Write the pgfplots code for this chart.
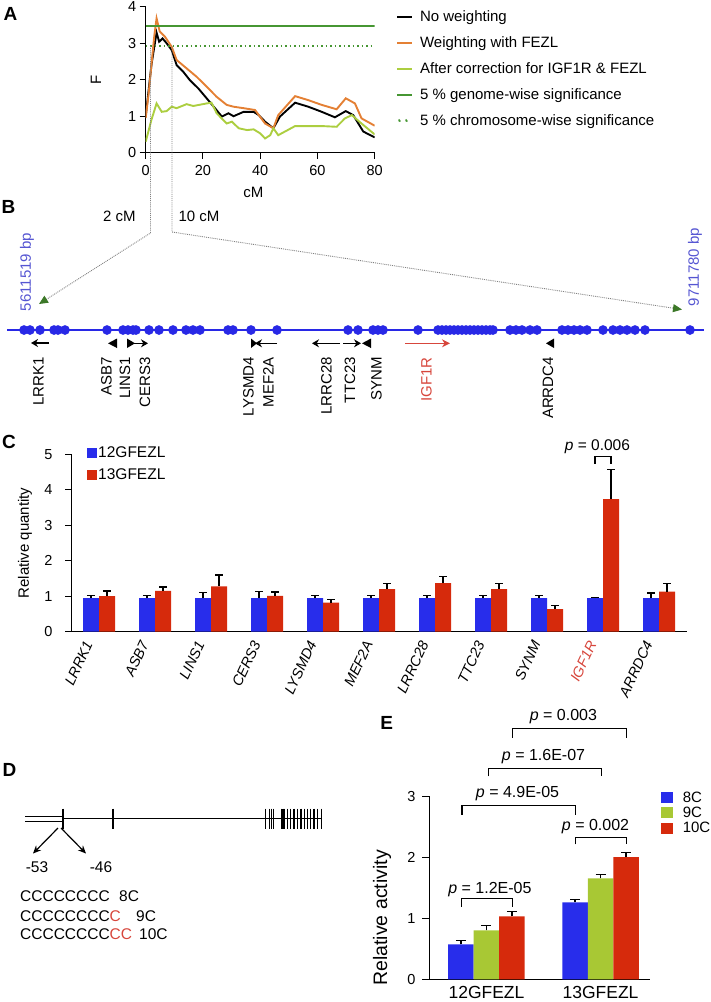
\documentclass[border=0pt]{standalone}
\usepackage{fontspec}
\setmainfont{Liberation Sans}
\usepackage{pgfplots}
\pgfplotsset{compat=1.18}
\usetikzlibrary{arrows.meta}

\definecolor{cblue}{RGB}{40,45,235}
\definecolor{cred}{RGB}{214,42,12}
\definecolor{cgreen}{RGB}{168,200,52}
\definecolor{aorange}{RGB}{228,128,52}
\definecolor{alime}{RGB}{172,206,64}
\definecolor{agreen}{RGB}{70,150,50}
\definecolor{bblue}{RGB}{40,40,230}
\definecolor{btext}{RGB}{85,85,210}
\definecolor{arrgreen}{RGB}{60,120,40}
\definecolor{igfred}{RGB}{215,70,60}

\newcommand{\fs}[1]{\fontsize{#1}{#1}\selectfont}
\newcommand{\lstr}{\rule[-0.15em]{0pt}{0.88em}}

\pgfplotsset{
  sqC/.style={legend image code/.code={\path[##1] (0pt,-5pt) rectangle (10pt,5pt);}},
  sqE/.style={legend image code/.code={\path[##1] (0pt,-5.5pt) rectangle (12pt,5.5pt);}},
}

\pgfplotstableread{
x b be r re
0 0.95 0.07 1.00 0.15
1 0.95 0.07 1.15 0.11
2 0.95 0.15 1.28 0.32
3 0.95 0.18 1.01 0.11
4 0.95 0.08 0.82 0.08
5 0.95 0.08 1.20 0.15
6 0.95 0.08 1.37 0.19
7 0.95 0.08 1.20 0.15
8 0.95 0.08 0.64 0.09
9 0.95 0.02 3.74 0.84
10 0.95 0.14 1.13 0.22
}\tableC

\pgfplotstableread{
x a ae b be c ce
0 0.57 0.06 0.80 0.08 1.03 0.08
1 1.26 0.04 1.65 0.06 2.00 0.08
}\tableE

\begin{document}
\begin{tikzpicture}
\useasboundingbox (0,0) rectangle (711pt,-1002pt);

% ---------------- Panel A ----------------
\begin{axis}[
  at={(145.7pt,-152.7pt)}, anchor=south west,
  width=229pt, height=146pt, scale only axis,
  xmin=0, xmax=80, ymin=0, ymax=4, enlargelimits=false,
  axis lines*=left,
  axis line style={line width=1pt},
  tick align=outside, major tick length=6pt,
  tick style={line width=1pt, black},
  xtick={0,20,40,60,80}, ytick={0,1,2,3,4},
  tick label style={font=\fs{14.5}},
  xticklabel style={yshift=-3pt},
  /pgf/number format/assume math mode=true,
  xlabel={cM}, ylabel={F},
  xlabel style={at={(axis description cs:0.47,-0.269)}, anchor=center, font=\fs{15}},
  ylabel style={at={(axis description cs:-0.217,0.5)}, anchor=center, font=\fs{15}},
  legend style={at={(1.093,0.982)}, anchor=north west, draw=none, fill=none, inner sep=0pt,
    font=\fs{15}, row sep=11.6pt, column sep=6pt, nodes={inner sep=1pt}},
  legend cell align=left,
  legend image code/.code={\draw[#1] (0pt,0pt) -- (15pt,0pt);},
]
\addplot[black, line width=1.9pt] coordinates {
(0,1.0) (1,1.7) (2,2.4) (3,2.9) (3.8,3.29) (4.7,3.04) (5.9,3.13) (7.3,3.0) (9.1,2.81)
(10.8,2.4) (13.1,2.22) (15.4,1.99) (18.4,1.76) (21.3,1.49) (24.2,1.22) (26.6,0.99)
(28.9,1.08) (30.7,1.0) (34.2,1.12) (37.7,1.12) (39.5,1.03) (41.7,0.85) (44.6,0.67)
(46.9,0.99) (52.2,1.37) (56.8,1.26) (61.5,1.12) (66.1,0.97) (69.9,1.14) (72.5,1.03)
(76,0.58) (80,0.42)};
\addlegendentry{\lstr No weighting}
\addplot[aorange, line width=1.9pt] coordinates {
(0,0.95) (1,1.6) (2,2.4) (3,3.2) (3.8,3.68) (4.9,3.32) (6.7,3.18) (9.1,2.9) (10.8,2.54)
(14.3,2.31) (17.8,2.08) (21.3,1.81) (24.8,1.53) (28.3,1.31) (30.7,1.26) (34.2,1.22)
(38.2,1.17) (41.7,0.8) (44.6,0.67) (46.3,1.03) (52.2,1.55) (56.8,1.44) (61.5,1.31)
(66.7,1.19) (69.9,1.49) (73.1,1.35) (75.4,0.94) (80,0.74)};
\addlegendentry{\lstr Weighting with FEZL}
\addplot[alime, line width=1.9pt] coordinates {
(0,0.3) (1,0.6) (2,0.9) (3.8,1.35) (5.6,1.12) (7.3,1.14) (9.1,1.26) (10.8,1.22)
(14.3,1.33) (16.6,1.28) (21.3,1.35) (23.0,1.37) (24.8,1.08) (28.3,0.8) (30.1,0.85)
(32.5,0.67) (35.4,0.62) (37.7,0.64) (40.0,0.53) (41.7,0.39) (43.5,0.48) (44.6,0.67)
(46.3,0.48) (52.2,0.73) (56.8,0.73) (61.5,0.73) (66.7,0.71) (69.6,0.94) (72,1.03)
(75.4,0.8) (80,0.5)};
\addlegendentry{\lstr After correction for IGF1R \& FEZL}
\addplot[agreen, line width=1.8pt] coordinates {(0,3.48) (80,3.48)};
\addlegendentry{\lstr 5 \% genome-wise significance}
\addplot[agreen, line width=1.6pt, dash pattern=on 1.6pt off 2.9pt,
  legend image code/.code={\fill[agreen] (2pt,0pt) circle (0.9pt); \fill[agreen] (9pt,0pt) circle (0.9pt);}]
  coordinates {(0,2.93) (80,2.93)};
\addlegendentry{\lstr 5 \% chromosome-wise significance}
\end{axis}

% ---------------- Panel C ----------------
\begin{axis}[
  at={(71pt,-631.7pt)}, anchor=south west,
  width=616pt, height=177.4pt, scale only axis,
  xmin=-0.5, xmax=10.5, ymin=0, ymax=5, enlargelimits=false,
  ybar=0pt, bar width=16pt,
  axis lines*=left,
  axis line style={line width=1pt},
  tick align=outside, major tick length=6pt,
  tick style={line width=1pt, black},
  xtick={0,...,10}, xtick style={draw=none},
  xticklabels={LRRK1,ASB7,LINS1,CERS3,LYSMD4,MEF2A,LRRC28,TTC23,SYNM,{\color{igfred}IGF1R},ARRDC4},
  xticklabel style={font=\fs{14.5}\itshape, xshift=-9pt, yshift=-1pt, rotate=65, anchor=east},
  ytick={0,...,5},
  yticklabel style={font=\fs{14.5}, xshift=-9pt},
  /pgf/number format/assume math mode=true,
  ylabel={Relative quantity},
  ylabel style={at={(axis description cs:-0.0747,0.5)}, anchor=center, font=\fs{15}},
  legend style={at={(0.026,1.052)}, anchor=north west, draw=none, fill=none, inner sep=0pt,
    font=\fs{15.5}, row sep=7pt, column sep=0pt, nodes={inner sep=1pt}},
  legend cell align=left,
  clip=false,
]
\addplot[fill=cblue, draw=none, sqC,
  error bars/.cd, y dir=plus, y explicit,
  error bar style={line width=1.2pt, black},
  error mark options={rotate=90, mark size=4pt, line width=1.2pt, black}]
  table[x=x, y=b, y error=be] {\tableC};
\addlegendentry{\lstr 12GFEZL}
\addplot[fill=cred, draw=none, sqC,
  error bars/.cd, y dir=plus, y explicit,
  error bar style={line width=1.2pt, black},
  error mark options={rotate=90, mark size=4pt, line width=1.2pt, black}]
  table[x=x, y=r, y error=re] {\tableC};
\addlegendentry{\lstr 13GFEZL}
\draw[line width=1.1pt] (8.857,4.74) -- (8.857,4.93) -- (9.143,4.93) -- (9.143,4.74);
\node[font=\fs{15.5}] at (8.9,5.22) {\textit{p} = 0.006};
\end{axis}

% ---------------- Panel E ----------------
\begin{axis}[
  at={(429pt,-979.3pt)}, anchor=south west,
  width=221pt, height=183.3pt, scale only axis,
  xmin=-0.504, xmax=1.434, ymin=0, ymax=3, enlargelimits=false,
  ybar=0pt, bar width=25.5pt,
  axis lines*=left,
  axis line style={line width=1pt},
  tick align=outside, major tick length=7pt,
  tick style={line width=1pt, black},
  xtick={0,1}, xtick style={draw=none},
  xticklabels={12GFEZL,13GFEZL},
  xticklabel style={font=\fs{17.5}, yshift=3.5pt},
  ytick={0,1,2,3},
  yticklabel style={font=\fs{14.5}, xshift=-3pt},
  /pgf/number format/assume math mode=true,
  ylabel={Relative activity},
  ylabel style={at={(axis description cs:-0.212,0.335)}, anchor=center, font=\fs{19.5}},
  legend style={at={(1.048,1.031)}, anchor=north west, draw=none, fill=none, inner sep=0pt,
    font=\fs{15}, row sep=1.5pt, column sep=9pt, nodes={inner sep=1pt}},
  legend cell align=left,
  clip=false,
]
\addplot[fill=cblue, draw=none, sqE,
  error bars/.cd, y dir=plus, y explicit,
  error bar style={line width=1.2pt, black},
  error mark options={rotate=90, mark size=5pt, line width=1.2pt, black}]
  table[x=x, y=a, y error=ae] {\tableE};
\addlegendentry{8C}
\addplot[fill=cgreen, draw=none, sqE,
  error bars/.cd, y dir=plus, y explicit,
  error bar style={line width=1.2pt, black},
  error mark options={rotate=90, mark size=5pt, line width=1.2pt, black}]
  table[x=x, y=b, y error=be] {\tableE};
\addlegendentry{9C}
\addplot[fill=cred, draw=none, sqE,
  error bars/.cd, y dir=plus, y explicit,
  error bar style={line width=1.2pt, black},
  error mark options={rotate=90, mark size=5pt, line width=1.2pt, black}]
  table[x=x, y=c, y error=ce] {\tableE};
\addlegendentry{10C}
\draw[line width=1.1pt] (-0.221,1.19) -- (-0.221,1.33) -- (0.226,1.33) -- (0.226,1.19);
\node[font=\fs{16}] at (0.03,1.47) {\textit{p} = 1.2E-05};
\draw[line width=1.1pt] (0.779,2.21) -- (0.779,2.32) -- (1.224,2.32) -- (1.224,2.21);
\node[font=\fs{16}] at (0.956,2.5) {\textit{p} = 0.002};
\draw[line width=1.1pt] (-0.215,2.69) -- (-0.215,2.84) -- (0.782,2.84) -- (0.782,2.69);
\node[font=\fs{16}] at (0.272,3.04) {\textit{p} = 4.9E-05};
\draw[line width=1.1pt] (0.016,3.32) -- (0.016,3.45) -- (1.01,3.45) -- (1.01,3.32);
\node[font=\fs{16}] at (0.5,3.64) {\textit{p} = 1.6E-07};
\draw[line width=1.1pt] (0.226,3.95) -- (0.226,4.1) -- (1.224,4.1) -- (1.224,3.95);
\node[font=\fs{16}] at (0.675,4.3) {\textit{p} = 0.003};
\end{axis}

% ---------------- Canvas: panels B, D, letters ----------------
\begin{axis}[
  at={(0pt,0pt)}, anchor=north west,
  width=711pt, height=1002pt, scale only axis,
  xmin=0, xmax=711, ymin=0, ymax=1002, y dir=reverse,
  enlargelimits=false, hide axis, clip=false,
]
% panel letters
\node[font=\fs{19}\bfseries] at (10.5,13.5) {A};
\node[font=\fs{19}\bfseries] at (8.5,207) {B};
\node[font=\fs{19}\bfseries] at (9,441.5) {C};
\node[font=\fs{19}\bfseries] at (9.5,770) {D};
\node[font=\fs{19}\bfseries] at (386.7,723) {E};

% connectors from A to B
\draw[gray, densely dotted, line width=0.9pt,
  -{Triangle[length=9pt,width=8pt,color=arrgreen]}] (150.5,46) -- (150.5,233) -- (39,304);
\draw[gray, densely dotted, line width=0.9pt,
  -{Triangle[length=9pt,width=8pt,color=arrgreen]}] (172,46) -- (172,232) -- (682,309.5);
\node[font=\fs{15}] at (119.5,216) {2 cM};
\node[font=\fs{15}] at (199,216) {10 cM};
\node[font=\fs{15}, text=btext, rotate=90] at (27,272) {5611519 bp};
\node[font=\fs{15}, text=btext, rotate=90] at (695,267) {9711780 bp};

% chromosome segment
\addplot[bblue, line width=1.2pt] coordinates {(7,330) (704,330)};
\addplot[only marks, mark=*, mark size=4.6pt, color=bblue, mark options={draw=bblue, fill=bblue}]
coordinates {
(24,330) (30,330) (40,330) (54,330) (58,330) (65,330) (107,330) (123,330) (128,330)
(133,330) (136,330) (149,330) (159,330) (173,330) (186,330) (193,330) (200,330)
(228,330) (233,330) (251,330) (277,330) (348,330) (358,330) (373,330) (378,330)
(383,330) (418,330) (438,330) (442,330) (446,330) (450,330) (454,330) (458,330)
(462,330) (466,330) (470,330) (474,330) (478,330) (482,330) (486,330) (490,330)
(493,330) (510,330) (516,330) (522,330) (530,330) (537,330) (562,330) (568,330)
(574,330) (580,330) (587,330) (603,330) (613,330) (620,330) (627,330) (635,330)
(645,330) (690,330)};

% gene orientation marks
\draw[line width=1.3pt, -{Stealth[length=7pt,width=8pt]}] (49,343) -- (31,343);
\fill (117,338.5) -- (117,348) -- (108,343.3) -- cycle;
\fill (127,338.5) -- (127,348) -- (135,343.3) -- cycle;
\draw[line width=1.3pt, -{Stealth[length=7pt,width=8pt]}] (130,343.3) -- (148,343.3);
\fill (251,338.5) -- (251,348) -- (257,343.3) -- cycle;
\draw[line width=1.3pt, -{Stealth[length=7pt,width=8pt]}] (277,343.3) -- (255,343.3);
\draw[line width=1.3pt, -{Stealth[length=7pt,width=8pt]}] (340,343.3) -- (312,343.3);
\draw[line width=1.3pt, -{Stealth[length=7pt,width=8pt]}] (343,343.3) -- (361,343.3);
\fill (371,338.5) -- (371,348) -- (362,343.3) -- cycle;
\draw[line width=1.2pt, igfred, -{Stealth[length=8pt,width=8pt]}] (405,343.3) -- (450,343.3);
\fill (554,338.5) -- (554,348) -- (546,343.3) -- cycle;

% gene names
\node[font=\fs{15}, rotate=90, anchor=east, inner sep=0pt] at (38.5,357) {LRRK1};
\node[font=\fs{15}, rotate=90, anchor=east, inner sep=0pt] at (106.5,357) {ASB7};
\node[font=\fs{15}, rotate=90, anchor=east, inner sep=0pt] at (125,357) {LINS1};
\node[font=\fs{15}, rotate=90, anchor=east, inner sep=0pt] at (145,357) {CERS3};
\node[font=\fs{15}, rotate=90, anchor=east, inner sep=0pt] at (248.5,357) {LYSMD4};
\node[font=\fs{15}, rotate=90, anchor=east, inner sep=0pt] at (268.5,357) {MEF2A};
\node[font=\fs{15}, rotate=90, anchor=east, inner sep=0pt] at (326.5,357) {LRRC28};
\node[font=\fs{15}, rotate=90, anchor=east, inner sep=0pt] at (350,357) {TTC23};
\node[font=\fs{15}, rotate=90, anchor=east, inner sep=0pt] at (376.5,357) {SYNM};
\node[font=\fs{15}, rotate=90, anchor=east, inner sep=0pt, text=igfred] at (426.5,357) {IGF1R};
\node[font=\fs{15}, rotate=90, anchor=east, inner sep=0pt] at (548,357) {ARRDC4};

% ---------------- Panel D ----------------
\draw[line width=0.8pt] (25,816.5) -- (63,816.5);
\draw[line width=0.8pt] (25,820.9) -- (63,820.9);
\draw[line width=1pt] (63,818.7) -- (322,818.7);
\addplot[only marks, mark=|, mark size=10pt, black, mark options={line width=1.1pt}]
coordinates {
(63,818.5) (113,818.5) (265.7,818.5) (269.3,818.5) (271.7,818.5) (273.3,818.5)
(281.5,818.5) (283,818.5) (284.5,818.5) (287.3,818.5) (290.7,818.5) (294,818.5)
(297.7,818.5) (301,818.5) (304.3,818.5) (307.3,818.5) (310.7,818.5) (314,818.5)
(317.7,818.5) (321.7,818.5)};
\draw[line width=1.2pt, -{Stealth[length=8pt,width=7pt]}] (58,828) -- (33,853.5);
\draw[line width=1.2pt, -{Stealth[length=8pt,width=7pt]}] (61,828) -- (86,853.5);
\node[font=\fs{15.5}] at (37,867.5) {-53};
\node[font=\fs{15.5}] at (101,867.5) {-46};
\node[font=\fs{15.5}, anchor=base west, inner sep=0pt] at (20,901.6) {CCCCCCCC};
\node[font=\fs{15.5}, anchor=base west, inner sep=0pt] at (119,901.6) {8C};
\node[font=\fs{15.5}, anchor=base west, inner sep=0pt] at (20,921.2) {CCCCCCCC\textcolor{igfred}{C}};
\node[font=\fs{15.5}, anchor=base west, inner sep=0pt] at (136,921.2) {9C};
\node[font=\fs{15.5}, anchor=base west, inner sep=0pt] at (20,939.8) {CCCCCCCC\textcolor{igfred}{CC}};
\node[font=\fs{15.5}, anchor=base west, inner sep=0pt] at (139,939.8) {10C};
\end{axis}
\end{tikzpicture}
\end{document}
